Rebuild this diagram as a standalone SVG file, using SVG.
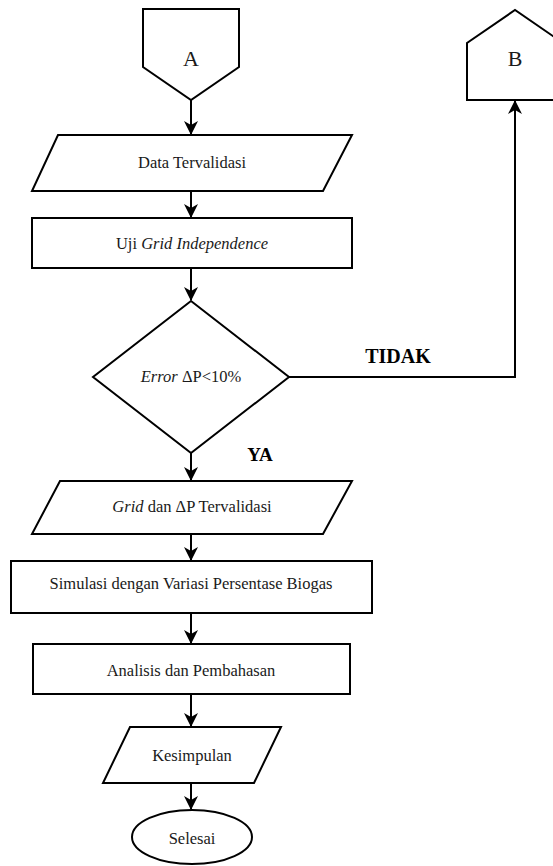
<svg xmlns="http://www.w3.org/2000/svg" width="553" height="866" viewBox="0 0 553 866">
<style>
.s{fill:#fff;stroke:#000;stroke-width:2;stroke-linejoin:miter}
text{font-family:'Liberation Serif','DejaVu Serif',serif}
.t{font-size:16.5px;fill:#1a1a1a;text-anchor:middle}
.b{font-size:19px;font-weight:bold;fill:#000;text-anchor:middle}
.c{fill:none;stroke:#000;stroke-width:2}
</style>
<defs>
<marker id="ah" markerWidth="14" markerHeight="16" refX="13" refY="7" orient="auto" markerUnits="userSpaceOnUse" viewBox="0 0 14 14">
<path d="M0,0 L14,7 L0,14 L4,7 Z" fill="#000"/>
</marker>
</defs>
<g id="connectors">
<path class="c" d="M191,100 V134" marker-end="url(#ah)"/>
<path class="c" d="M191,191 V217" marker-end="url(#ah)"/>
<path class="c" d="M191,268 V300" marker-end="url(#ah)"/>
<path class="c" d="M191,453 V480" marker-end="url(#ah)"/>
<path class="c" d="M191,534 V560" marker-end="url(#ah)"/>
<path class="c" d="M191,613 V643" marker-end="url(#ah)"/>
<path class="c" d="M191,694 V726" marker-end="url(#ah)"/>
<path class="c" d="M191,783 V809" marker-end="url(#ah)"/>
<path class="c" d="M289,377 H515 V101" marker-end="url(#ah)"/>
<text class="b" x="398" y="363" style="font-size:20px">TIDAK</text>
<text class="b" x="260" y="461">YA</text>
</g>
<g id="A">
<path class="s" d="M143,9 H239 V67 L191,100 L143,67 Z"/>
<text class="t" x="191" y="66" style="font-size:22px">A</text>
</g>
<g id="B">
<path class="s" d="M467,100 V43 L515,10 L563,43 V100 Z"/>
<text class="t" x="515" y="66" style="font-size:22px">B</text>
</g>
<g id="data">
<path class="s" d="M58,135 H352 L323,191 H32 Z"/>
<text class="t" x="192" y="168">Data Tervalidasi</text>
</g>
<g id="uji">
<rect class="s" x="32" y="218" width="320" height="50"/>
<text class="t" x="192" y="249">Uji <tspan font-style="italic">Grid Independence</tspan></text>
</g>
<g id="decision">
<path class="s" d="M191,301 L289,377 L191,453 L93,377 Z"/>
<text class="t" x="191" y="382"><tspan font-style="italic">Error</tspan> ΔP&lt;10%</text>
</g>
<g id="grid">
<path class="s" d="M60,481 H352 L323,534 H32 Z"/>
<text class="t" x="192" y="512"><tspan font-style="italic">Grid</tspan> dan ΔP Tervalidasi</text>
</g>
<g id="simulasi">
<rect class="s" x="11" y="561" width="361" height="52"/>
<text class="t" x="191" y="589">Simulasi dengan Variasi Persentase Biogas</text>
</g>
<g id="analisis">
<rect class="s" x="33" y="644" width="317" height="50"/>
<text class="t" x="191" y="676">Analisis dan Pembahasan</text>
</g>
<g id="kesimpulan">
<path class="s" d="M130,727 H281 L254,783 H103 Z"/>
<text class="t" x="192" y="761">Kesimpulan</text>
</g>
<g id="selesai">
<ellipse class="s" cx="192" cy="837" rx="60" ry="27"/>
<text class="t" x="192" y="844">Selesai</text>
</g>
</svg>
